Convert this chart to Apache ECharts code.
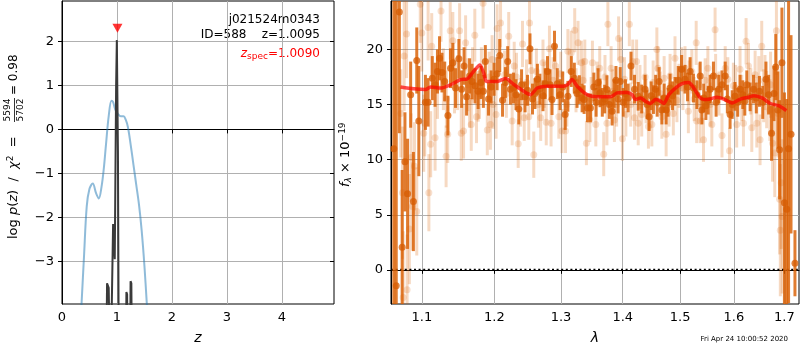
<!DOCTYPE html>
<html><head><meta charset="utf-8">
<script src="https://cdn.jsdelivr.net/npm/echarts@6/dist/echarts.min.js"></script>
<style>html,body{margin:0;padding:0;background:#fff}#c{width:800px;height:350px}</style>
</head><body><div id="c"></div>
<script>
// ---------- data ----------
const zTicks = [0, 1, 2, 3, 4];
const logpTicks = [-3, -2, -1, 0, 1, 2];
const lamTicks = [1.1, 1.2, 1.3, 1.4, 1.5, 1.6, 1.7];
const fluxTicks = [0, 5, 10, 15, 20];

// smooth log p(z) curve (blue)
const blueZ = [0.35,0.40,0.45,0.50,0.56,0.62,0.67,0.72,0.76,0.80,0.85,0.90,0.93,0.97,1.02,1.07,1.12,1.16,1.20,1.25,1.30,1.35,1.40,1.45,1.50,1.55];
const blueLogP = [-4.1,-2.9,-1.75,-1.35,-1.23,-1.45,-1.57,-1.3,-0.9,-0.35,0.3,0.65,0.62,0.45,0.35,0.30,0.30,0.22,0.05,-0.35,-0.8,-1.25,-1.7,-2.3,-3.1,-4.1];

// spiky log p(z) (black)
const pzZ = [0.80,0.82,0.835,0.85,0.865,0.88,0.915,0.93,0.945,0.96,0.985,0.998,1.008,1.018,1.035,1.16,1.172,1.185,1.198,1.235,1.248,1.262,1.277];
const pzLogP = [-6,-3.5,-3.55,-3.6,-3.62,-6,-6,-2.15,-2.5,-2.95,1.0,2.03,2.0,-0.5,-6,-6,-3.7,-3.75,-6,-6,-3.45,-3.5,-6];

const zSpec = 1.0090;
const zSpecMarkerY = 2.3;

// model spectrum (red)
const modelLam = [1.0722,1.0895,1.1049,1.1116,1.1250,1.1386,1.1523,1.1616,1.1708,1.1793,1.1849,1.1888,1.2043,1.2163,1.2285,1.2433,1.2533,1.2634,1.2787,1.3042,1.3105,1.3174,1.3254,1.3414,1.3576,1.3795,1.3906,1.4074,1.4159,1.4215,1.4301,1.4387,1.4474,1.4561,1.4619,1.4707,1.4796,1.4915,1.5036,1.5155,1.5246,1.5369,1.5493,1.5680,1.5804,1.5964,1.6124,1.6285,1.6383,1.6549,1.6715,1.6882,1.7039];
const modelFlux = [16.6,16.43,16.36,16.6,16.5,16.8,17.27,17.33,18.03,18.6,17.85,17.1,17.1,17.36,16.82,16.2,15.9,16.5,16.67,16.67,16.8,17.27,16.67,15.9,15.7,15.7,16.06,16.1,15.9,15.45,15.6,15.3,15.1,15.45,15.4,15.1,15.9,16.5,16.9,17.0,16.5,15.6,15.45,15.67,15.5,15.15,15.5,15.67,15.8,15.6,15.1,14.9,14.45];

// binned spectrum [lambda, flux, err] (dark)
const darkPoints = [
[1.0636,11.0,25],[1.0667,-1.45,26],[1.0707,23.4,11],[1.0743,2.06,7],[1.0779,9.8,4.5],[1.0813,6.9,5],[1.0853,15.9,3],[1.0889,6.2,4.5],[1.0933,19.0,3],[1.0960,13.5,5],
[1.1047,15.2,2.5],[1.1083,15.2,2.2],[1.1139,17.4,2.0],[1.1176,16.8,2.0],[1.1208,18.0,2.0],[1.1236,19.2,2.0],[1.1269,17.9,1.8],[1.1306,17.1,1.8],[1.1350,14.0,1.8],[1.1385,18.3,1.8],
[1.1417,18.8,1.8],[1.1454,16.5,1.8],[1.1500,19.15,1.8],[1.1538,16.4,1.7],[1.1572,18.5,1.7],[1.1607,15.7,1.7],[1.1649,17.6,1.6],[1.1683,17.1,1.6],[1.1725,16.7,1.6],[1.1769,16.2,1.6],
[1.1808,17.0,1.5],[1.1843,16.2,1.5],[1.1871,18.9,1.5],[1.1917,15.5,1.5],[1.1954,16.6,1.5],[1.1996,17.3,1.5],[1.2040,17.8,1.5],[1.2078,19.45,1.5],[1.2119,15.4,1.5],[1.2160,17.0,1.4],
[1.2194,18.9,1.4],[1.2234,16.4,1.4],[1.2279,16.5,1.4],[1.2316,15.9,1.4],[1.2358,14.6,1.4],[1.2399,16.8,1.4],[1.2451,15.7,1.4],[1.2488,16.3,1.4],[1.2525,20.06,1.4],[1.2563,15.5,1.4],
[1.2600,16.0,1.4],[1.2637,17.3,1.4],[1.2675,16.4,1.4],[1.2722,15.8,1.4],[1.2757,16.9,1.4],[1.2791,18.0,1.4],[1.2831,16.8,1.4],[1.2861,15.45,1.4],[1.2899,20.3,1.4],[1.2943,16.9,1.4],
[1.2985,15.9,1.4],[1.3027,16.6,1.4],[1.3065,14.1,1.4],[1.3108,15.75,1.4],[1.3161,18.0,1.4],[1.3210,17.4,1.4],[1.3253,16.0,1.3],[1.3290,16.36,1.3],[1.3334,15.6,1.3],[1.3366,15.45,1.3],
[1.3419,14.7,1.3],[1.3468,14.7,1.3],[1.3523,16.6,1.3],[1.3560,15.2,1.3],[1.3592,17.0,1.3],[1.3624,16.06,1.3],[1.3661,15.2,1.3],[1.3700,15.5,1.3],[1.3737,16.36,1.3],[1.3777,15.0,1.3],
[1.3823,14.4,1.3],[1.3855,16.0,1.3],[1.3887,17.2,1.3],[1.3923,15.5,1.3],[1.3958,17.1,1.3],[1.4007,15.2,1.3],[1.4047,16.0,1.3],[1.4091,15.6,1.3],[1.4140,18.5,1.3],[1.4200,16.4,1.3],
[1.4263,15.75,1.3],[1.4323,15.5,1.3],[1.4381,16.4,1.3],[1.4416,15.0,1.3],[1.4451,13.9,1.3],[1.4486,15.8,1.3],[1.4526,15.45,1.3],[1.4565,16.4,1.3],[1.4591,15.2,1.3],[1.4626,17.1,1.3],
[1.4674,14.5,1.3],[1.4714,15.6,1.3],[1.4749,14.5,1.3],[1.4784,15.2,1.3],[1.4819,16.5,1.3],[1.4863,15.8,1.3],[1.4907,16.2,1.3],[1.4965,17.2,1.3],[1.5026,18.2,1.3],[1.5087,17.3,1.3],
[1.5133,16.6,1.3],[1.5180,18.0,1.3],[1.5241,16.5,1.3],[1.5304,15.9,1.3],[1.5365,17.6,1.3],[1.5396,14.5,1.3],[1.5430,15.6,1.3],[1.5470,14.9,1.3],[1.5513,15.4,1.3],[1.5550,16.4,1.3],
[1.5611,17.6,1.3],[1.5661,15.2,1.3],[1.5711,16.4,1.3],[1.5772,16.8,1.3],[1.5833,17.6,1.3],[1.5874,15.5,1.3],[1.5926,14.1,1.3],[1.5967,15.0,1.3],[1.6020,15.75,1.3],[1.6073,15.2,1.3],
[1.6118,16.4,1.3],[1.6171,15.9,1.3],[1.6210,15.3,1.3],[1.6249,16.8,1.3],[1.6314,15.7,1.3],[1.6380,16.4,1.3],[1.6435,15.6,1.4],[1.6498,16.2,1.4],[1.6563,15.2,1.5],[1.6627,17.3,1.6],
[1.6680,15.9,1.8],[1.6739,12.4,2.5],[1.6788,16.0,2.5],[1.6824,18.4,3.0],[1.6867,14.5,3.5],[1.6902,10.9,4.5],[1.6949,18.8,5.0],[1.7000,6.1,10.0],[1.7048,5.5,10.0],[1.7085,11.0,14.0],
[1.7135,12.3,9.0],[1.7216,0.6,3.0]
];

// unbinned spectrum [lambda, flux, err] (faint)
const faintPoints = [
[1.0725,14.2,4.0],[1.0747,7.0,6.0],[1.0756,-2.5,6.0],[1.0769,19.4,5.0],[1.0800,21.4,4.0],[1.0807,-1.8,5.0],[1.0836,3.7,5.0],[1.0859,10.2,4.0],[1.0876,5.75,4.0],[1.0903,9.4,4.0],
[1.0933,5.3,4.0],[1.0979,24.1,3.5],[1.1000,21.5,3.5],[1.1024,12.4,3.5],[1.1038,13.3,3.0],[1.1083,22.0,3.0],[1.1093,7.0,3.5],[1.1117,11.4,3.0],[1.1131,20.3,3.0],[1.1176,12.0,3.0],
[1.1208,16.5,2.8],[1.1256,23.5,2.8],[1.1288,17.3,2.8],[1.1325,10.3,2.8],[1.1329,15.5,2.6],[1.1347,12.3,2.6],[1.1381,21.7,2.6],[1.1417,20.8,2.6],[1.1440,16.7,2.5],[1.1482,17.0,2.5],
[1.1510,21.7,2.5],[1.1533,12.4,2.5],[1.1565,12.6,2.5],[1.1593,20.6,2.5],[1.1625,16.8,2.4],[1.1649,15.3,2.4],[1.1672,13.2,2.4],[1.1690,17.8,2.4],[1.1722,21.3,2.4],[1.1746,13.9,2.4],
[1.1769,15.75,2.3],[1.1788,16.0,2.3],[1.1815,17.9,2.3],[1.1839,24.2,2.3],[1.1899,12.7,2.3],[1.1926,17.5,2.3],[1.1944,13.2,2.3],[1.1968,19.1,2.2],[1.1982,15.0,2.2],[1.2025,14.1,2.2],
[1.2040,21.9,2.2],[1.2090,22.4,2.2],[1.2149,17.7,2.2],[1.2175,16.0,2.2],[1.2209,21.2,2.2],[1.2260,13.5,2.2],[1.2290,18.5,2.2],[1.2324,17.5,2.2],[1.2349,11.45,2.2],[1.2384,15.2,2.2],
[1.2413,20.5,2.1],[1.2439,13.8,2.1],[1.2473,17.0,2.1],[1.2507,13.9,2.1],[1.2518,22.4,2.1],[1.2548,18.1,2.1],[1.2582,10.45,2.1],[1.2622,18.0,2.1],[1.2652,15.0,2.1],[1.2687,13.8,2.1],
[1.2722,18.8,2.1],[1.2742,16.8,2.1],[1.2772,13.4,2.1],[1.2821,20.06,2.1],[1.2846,13.3,2.1],[1.2876,17.2,2.1],[1.2916,18.5,2.0],[1.2966,13.9,2.0],[1.2996,17.8,2.0],[1.3016,12.6,2.0],
[1.3071,12.6,2.0],[1.3092,15.0,2.0],[1.3108,19.85,2.0],[1.3161,19.7,2.0],[1.3216,21.75,2.0],[1.3237,16.3,2.0],[1.3269,20.6,2.0],[1.3323,18.8,2.0],[1.3350,17.2,2.0],[1.3377,18.9,2.0],
[1.3403,11.5,2.0],[1.3458,13.6,2.0],[1.3479,15.5,2.0],[1.3500,18.8,2.0],[1.3555,13.2,2.0],[1.3576,16.9,2.0],[1.3619,18.3,2.0],[1.3684,10.5,2.0],[1.3705,17.5,2.0],[1.3737,13.3,2.0],
[1.3753,22.3,2.0],[1.3806,18.3,2.0],[1.3834,16.2,2.0],[1.3861,13.6,2.0],[1.3898,15.0,2.0],[1.3931,21.0,2.0],[1.3968,19.1,2.0],[1.3995,11.9,2.0],[1.4030,17.3,2.0],[1.4053,14.1,2.0],
[1.4112,22.3,2.0],[1.4135,15.0,2.0],[1.4170,18.9,2.0],[1.4200,13.8,2.0],[1.4235,18.9,2.0],[1.4263,13.3,2.0],[1.4293,16.6,2.0],[1.4323,14.1,2.0],[1.4381,17.5,2.0],[1.4398,15.3,2.0],
[1.4439,13.0,2.0],[1.4498,13.2,2.0],[1.4521,17.0,2.0],[1.4586,20.0,2.0],[1.4604,18.3,2.0],[1.4644,16.0,2.0],[1.4674,13.9,2.0],[1.4714,17.4,2.0],[1.4749,12.3,2.0],[1.4802,15.0,2.0],
[1.4819,17.6,2.0],[1.4877,14.2,2.0],[1.4907,19.2,2.0],[1.4942,15.4,2.0],[1.4977,16.7,2.0],[1.5026,18.2,2.0],[1.5050,16.5,2.0],[1.5087,18.3,2.0],[1.5148,14.4,2.0],[1.5161,17.0,2.0],
[1.5211,18.0,2.0],[1.5254,15.5,2.0],[1.5291,20.6,2.0],[1.5300,13.5,2.0],[1.5346,16.8,2.0],[1.5365,13.5,2.0],[1.5426,11.8,2.0],[1.5457,17.2,2.0],[1.5507,18.3,2.0],[1.5550,15.0,2.0],
[1.5581,13.2,2.0],[1.5642,21.8,2.0],[1.5652,17.6,2.0],[1.5716,16.0,2.0],[1.5772,12.2,2.0],[1.5833,18.3,2.0],[1.5883,17.3,2.0],[1.5915,10.8,2.1],[1.5989,16.7,2.1],[1.6033,16.5,2.1],
[1.6053,13.2,2.1],[1.6118,18.2,2.1],[1.6151,15.6,2.1],[1.6184,13.3,2.1],[1.6235,20.75,2.1],[1.6282,18.5,2.1],[1.6327,16.2,2.1],[1.6347,12.9,2.2],[1.6412,17.7,2.2],[1.6445,13.3,2.2],
[1.6484,17.2,2.2],[1.6510,11.8,2.3],[1.6543,20.3,2.3],[1.6582,15.8,2.4],[1.6608,17.0,2.5],[1.6641,15.45,2.6],[1.6706,14.5,2.8],[1.6720,16.8,3.0],[1.6759,11.5,3.5],[1.6804,10.6,4.0],
[1.6837,21.7,4.0],[1.6871,14.2,4.0],[1.6902,6.4,5.0],[1.6916,3.6,6.0],[1.6935,7.9,6.0],[1.6955,4.85,7.0]
];

const zeroLineLam = [1.06, 1.73];
const lamRange = [1.06, 1.73];
const zRange = [0, 4.95];
const logpRange = [-3.97, 2.92];
const fluxRange = [-3.1, 24.4];

// ---------- chart ----------
const L = Math.log10;
const FONT = 'DejaVu Sans';
const minus = v => (v < 0 ? '\u2212' : '') + Math.abs(v);

function errRender(color, width) {
  return function (params, api) {
    const x = api.value(0), y = api.value(1), e = api.value(2);
    const p1 = api.coord([x, y - e]), p2 = api.coord([x, y + e]);
    const cs = params.coordSys;
    const top = cs.y, bot = cs.y + cs.height;
    const y1 = Math.min(bot, Math.max(top, p1[1]));
    const y2 = Math.min(bot, Math.max(top, p2[1]));
    if (Math.abs(y1 - y2) < 0.1) return null;
    return { type: 'line', shape: { x1: p1[0], y1: y1, x2: p2[0], y2: y2 },
      style: { stroke: color, lineWidth: width } };
  };
}

const axisCommon = {
  axisLine: { show: true, lineStyle: { color: '#000', width: 1 } },
  axisTick: { show: true, length: 4, lineStyle: { color: '#000', width: 1 } },
  axisLabel: { color: '#000', fontSize: 13, fontFamily: FONT },
  splitLine: { show: true, lineStyle: { color: '#b0b0b0', width: 1 } }
};
function ax(extra) {
  const o = JSON.parse(JSON.stringify(axisCommon));
  for (const k in extra) {
    if (typeof extra[k] === 'object' && !Array.isArray(extra[k]) && o[k]) Object.assign(o[k], extra[k]);
    else o[k] = extra[k];
  }
  return o;
}

const chart = echarts.init(document.getElementById('c'), null, { renderer: 'canvas' });

const darkOrange = 'rgba(217,95,2,0.82)';
const darkDot = 'rgba(214,92,2,0.95)';
const faintOrange = 'rgba(217,95,2,0.24)';
const txt = (s, extra) => Object.assign({ text: s, fontFamily: FONT, fontSize: 13, fill: '#000',
  align: 'left', textAlign: 'left', verticalAlign: 'middle', textVerticalAlign: 'middle' }, extra || {});

const option = {
  animation: false,
  backgroundColor: '#fff',
  grid: [
    { left: 62, top: 1, width: 272, height: 303, show: true, borderColor: '#000', borderWidth: 1, backgroundColor: 'transparent' },
    { left: 391, top: 1, width: 408, height: 303, show: true, borderColor: '#000', borderWidth: 1, backgroundColor: 'transparent' }
  ],
  xAxis: [
    ax({ type: 'value', gridIndex: 0, min: zRange[0], max: zRange[1],
      axisTick: { customValues: zTicks },
      axisLabel: { customValues: zTicks, margin: 7 },
      name: 'z', nameLocation: 'middle', nameGap: 27,
      nameTextStyle: { fontStyle: 'italic', fontSize: 14, fontFamily: FONT, color: '#000' } }),
    ax({ type: 'value', gridIndex: 1, min: L(lamRange[0]), max: L(lamRange[1]),
      axisTick: { customValues: lamTicks.map(L) },
      axisLabel: { customValues: lamTicks.map(L), margin: 7, formatter: v => Math.pow(10, v).toFixed(1) },
      name: 'λ', nameLocation: 'middle', nameGap: 27,
      nameTextStyle: { fontStyle: 'italic', fontSize: 14, fontFamily: FONT, color: '#000' } })
  ],
  yAxis: [
    ax({ type: 'value', gridIndex: 0, min: logpRange[0], max: logpRange[1],
      axisTick: { customValues: logpTicks },
      axisLabel: { customValues: logpTicks, margin: 8, formatter: minus } }),
    ax({ type: 'value', gridIndex: 1, min: fluxRange[0], max: fluxRange[1],
      axisTick: { customValues: fluxTicks },
      axisLabel: { customValues: fluxTicks, margin: 8 } }),
    { type: 'value', gridIndex: 0, position: 'right', min: logpRange[0], max: logpRange[1],
      axisLine: { show: false }, splitLine: { show: false },
      axisTick: { show: true, inside: true, length: 4, customValues: logpTicks, lineStyle: { color: '#000' } },
      axisLabel: { show: false, customValues: logpTicks } }
  ],
  series: [
    { type: 'line', xAxisIndex: 0, yAxisIndex: 0, showSymbol: false, smooth: 0.35, clip: true,
      data: blueZ.map((z, i) => [z, blueLogP[i]]),
      lineStyle: { color: 'rgba(31,119,180,0.5)', width: 2 }, z: 2 },
    { type: 'line', xAxisIndex: 0, yAxisIndex: 0, showSymbol: false, clip: true,
      data: pzZ.map((z, i) => [z, pzLogP[i]]),
      lineStyle: { color: '#3a3a3a', width: 2 }, z: 3 },
    { type: 'scatter', xAxisIndex: 0, yAxisIndex: 0, symbol: 'triangle', symbolRotate: 180, symbolSize: [10, 9],
      data: [[zSpec, zSpecMarkerY]], itemStyle: { color: '#ff0000' }, z: 4 },

    { type: 'custom', xAxisIndex: 1, yAxisIndex: 1, renderItem: errRender(faintOrange, 3),
      data: faintPoints.map(p => [L(p[0]), p[1], p[2]]), encode: { x: 0, y: 1 }, z: 2 },
    { type: 'scatter', xAxisIndex: 1, yAxisIndex: 1, symbolSize: 7,
      data: faintPoints.map(p => [L(p[0]), p[1]]), itemStyle: { color: faintOrange }, z: 3 },
    { type: 'line', xAxisIndex: 1, yAxisIndex: 1, showSymbol: false,
      data: zeroLineLam.map(l => [L(l), 0]),
      lineStyle: { color: '#000', width: 2, type: [2, 2.6] }, z: 4 },
    { type: 'custom', xAxisIndex: 1, yAxisIndex: 1, renderItem: errRender(darkOrange, 3),
      data: darkPoints.map(p => [L(p[0]), p[1], p[2]]), encode: { x: 0, y: 1 }, z: 5 },
    { type: 'scatter', xAxisIndex: 1, yAxisIndex: 1, symbolSize: 7,
      data: darkPoints.map(p => [L(p[0]), p[1]]), itemStyle: { color: darkDot }, z: 6 },
    { type: 'line', xAxisIndex: 1, yAxisIndex: 1, showSymbol: false, smooth: 0.25,
      data: modelLam.map((l, i) => [L(l), modelFlux[i]]),
      lineStyle: { color: 'rgba(255,0,0,0.7)', width: 3.5 }, z: 7 }
  ],
  graphic: [
    { type: 'text', x: 320, y: 20, style: txt('j021524m0343', { fontSize: 12, align: 'right', textAlign: 'right' }) },
    { type: 'text', x: 320, y: 35, style: txt('ID=588    z=1.0095', { fontSize: 12, align: 'right', textAlign: 'right' }) },
    { type: 'text', x: 320, y: 54, style: txt('{i|z}{s|spec}{n|=1.0090}', {
        fontSize: 12, fill: '#ff0000', align: 'right', textAlign: 'right',
        rich: {
          i: { fontStyle: 'italic', fontSize: 12, fontFamily: FONT, fill: '#ff0000' },
          s: { fontSize: 9, fontFamily: FONT, fill: '#ff0000', padding: [6, 0, 0, 0] },
          n: { fontSize: 12, fontFamily: FONT, fill: '#ff0000' }
        } }) },
    { type: 'group', x: 14, y: 239, rotation: Math.PI / 2, children: [
      { type: 'text', x: 0, y: 0, style: txt('{n|log }{i|p}{n|(}{i|z}{n|)  /  }{i|χ}{sup|2}{n|  =}', {
          rich: {
            n: { fontSize: 13, fontFamily: FONT, fill: '#000' },
            i: { fontSize: 13, fontFamily: FONT, fontStyle: 'italic', fill: '#000' },
            sup: { fontSize: 9, fontFamily: FONT, fill: '#000', padding: [0, 0, 7, 0] }
          } }) },
      { type: 'text', x: 129, y: -6, style: txt('5594', { fontSize: 9, align: 'center', textAlign: 'center' }) },
      { type: 'line', shape: { x1: 117, y1: 0.5, x2: 141, y2: 0.5 }, style: { stroke: '#000', lineWidth: 0.8 } },
      { type: 'text', x: 129, y: 7, style: txt('5702', { fontSize: 9, align: 'center', textAlign: 'center' }) },
      { type: 'text', x: 144, y: 0, style: txt('= 0.98', { fontSize: 12 }) }
    ] },
    { type: 'group', x: 346, y: 187, rotation: Math.PI / 2, children: [
      { type: 'text', x: 0, y: 0, style: txt('{i|f}{sub|λ}{n| × 10}{sup|−19}', {
          rich: {
            n: { fontSize: 13, fontFamily: FONT, fill: '#000' },
            i: { fontSize: 13, fontFamily: FONT, fontStyle: 'italic', fill: '#000' },
            sub: { fontSize: 9, fontFamily: FONT, fontStyle: 'italic', fill: '#000', padding: [6, 0, 0, 0] },
            sup: { fontSize: 9, fontFamily: FONT, fill: '#000', padding: [0, 0, 7, 0] }
          } }) }
    ] },
    { type: 'text', x: 788, y: 339, style: txt('Fri Apr 24 10:00:52 2020', { fontSize: 7, align: 'right', textAlign: 'right' }) }
  ]
};
chart.setOption(option);
</script>
</body></html>
